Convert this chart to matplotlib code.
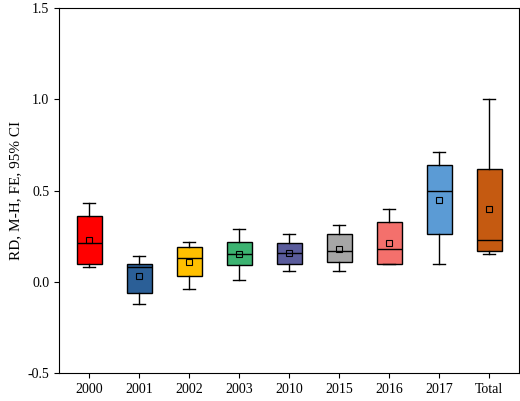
import matplotlib
matplotlib.use('Agg')
import matplotlib.pyplot as plt

labels = ['2000', '2001', '2002', '2003', '2010', '2015', '2016', '2017', 'Total']
whislo = [0.08, -0.12, -0.04, 0.01, 0.06, 0.06, 0.10, 0.10, 0.15]
q1 = [0.10, -0.06, 0.03, 0.09, 0.10, 0.11, 0.10, 0.26, 0.17]
med = [0.21, 0.08, 0.13, 0.15, 0.16, 0.17, 0.18, 0.50, 0.23]
q3 = [0.36, 0.10, 0.19, 0.22, 0.21, 0.26, 0.33, 0.64, 0.62]
whishi = [0.43, 0.14, 0.22, 0.29, 0.26, 0.31, 0.40, 0.71, 1.00]
means = [0.23, 0.03, 0.11, 0.15, 0.16, 0.18, 0.21, 0.45, 0.40]
colors = ['#ff0000', '#2b5f97', '#ffc000', '#3cb371', '#5a5c9c',
          '#a6a6a6', '#f4706c', '#5b9bd5', '#c55a11']

plt.rcParams['font.family'] = ['Liberation Serif', 'DejaVu Serif']
fig = plt.figure(figsize=(5.2, 4.01), dpi=100)
ax = fig.add_axes([59/520, 28/401, 460/520, 365/401])

stats = []
for i in range(len(labels)):
    stats.append(dict(whislo=whislo[i], q1=q1[i], med=med[i], q3=q3[i],
                      whishi=whishi[i], mean=means[i], label=labels[i]))

bp = ax.bxp(stats, showmeans=True, patch_artist=True, widths=0.5, showfliers=False,
            medianprops=dict(color='black', lw=1),
            meanprops=dict(marker='s', markerfacecolor='none', markeredgecolor='black',
                           markersize=4, markeredgewidth=0.8),
            whiskerprops=dict(lw=1), capprops=dict(lw=1))
for patch, c in zip(bp['boxes'], colors):
    patch.set_facecolor(c)
    patch.set_edgecolor('black')
    patch.set_linewidth(1)

ax.set_ylim(-0.5, 1.5)
ax.set_yticks([-0.5, 0.0, 0.5, 1.0, 1.5])
ax.set_yticklabels(['-0.5', '0.0', '0.5', '1.0', '1.5'])
ax.set_xlim(0.4, 9.6)
ax.set_ylabel('RD, M-H, FE, 95% CI', fontsize=11)
ax.tick_params(labelsize=10, direction='out')
plt.savefig('out.png')
